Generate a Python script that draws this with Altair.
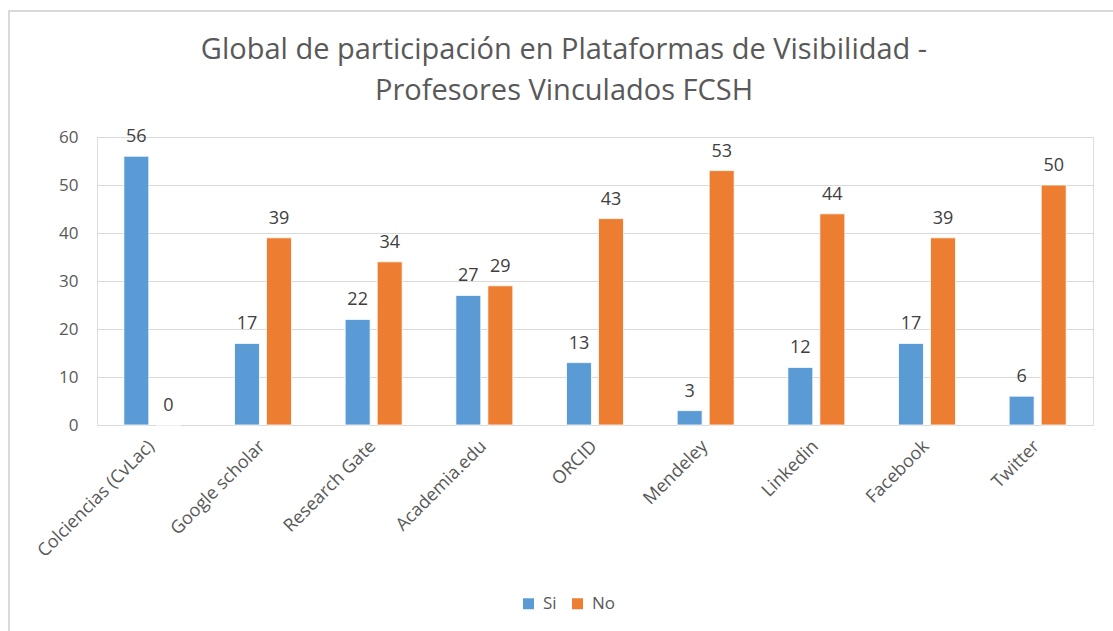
import altair as alt
import pandas as pd

categories = ["Colciencias (CvLac)", "Google scholar", "Research Gate", "Academia.edu",
              "ORCID", "Mendeley", "Linkedin", "Facebook", "Twitter"]
si_values = [56, 17, 22, 27, 13, 3, 12, 17, 6]
no_values = [0, 39, 34, 29, 43, 53, 44, 39, 50]
series = ["Si", "No"]
colors = ["#5B9BD5", "#ED7D31"]
title_lines = ["Global de participación en Plataformas de Visibilidad -",
               "Profesores Vinculados FCSH"]

rows = []
for c, s, n in zip(categories, si_values, no_values):
    rows.append({"Plataforma": c, "Serie": "Si", "Valor": s})
    rows.append({"Plataforma": c, "Serie": "No", "Valor": n})
df = pd.DataFrame(rows)

FONT = "Open Sans"
GRAY = "#595959"

x_enc = alt.X("Plataforma:N", sort=categories, title=None,
              scale=alt.Scale(paddingInner=0.485, paddingOuter=0.2425),
              axis=alt.Axis(labelAngle=-45, labelFontSize=18, labelColor=GRAY,
                            labelFont=FONT, ticks=False, domain=False, labelPadding=12,
                            labelOffset=-7))
xoff = alt.XOffset("Serie:N", sort=series, scale=alt.Scale(paddingInner=0.22))
y_enc = alt.Y("Valor:Q", title=None,
              scale=alt.Scale(domain=[0, 60]),
              axis=alt.Axis(values=[0, 10, 20, 30, 40, 50, 60], labelFontSize=17,
                            labelColor=GRAY, labelFont=FONT, ticks=False, domain=False,
                            gridColor="#D9D9D9", gridWidth=1, labelPadding=19))
color_enc = alt.Color("Serie:N", sort=series,
                      scale=alt.Scale(domain=series, range=colors),
                      legend=alt.Legend(title=None, orient="none", direction="horizontal",
                                        legendX=423, legendY=458, symbolType="square",
                                        symbolSize=120, symbolStrokeWidth=0,
                                        labelFontSize=17, labelColor=GRAY, labelFont=FONT,
                                        columnPadding=12, labelOffset=6))

bars = alt.Chart(df).mark_bar(stroke="white", strokeWidth=0.8).encode(
    x=x_enc, xOffset=xoff, y=y_enc, color=color_enc)

labels = alt.Chart(df).mark_text(baseline="alphabetic", dy=-14, fontSize=18,
                                 color="#404040", font=FONT).encode(
    x=alt.X("Plataforma:N", sort=categories),
    xOffset=alt.XOffset("Serie:N", sort=series),
    y="Valor:Q", text="Valor:Q")

frame = alt.Chart(pd.DataFrame({"a": [0]})).mark_rect(
    fill=None, stroke="#D9D9D9", strokeWidth=2, clip=False).encode(
    x=alt.value(-88), x2=alt.value(1030), y=alt.value(-126), y2=alt.value(510))

title1 = alt.Chart(pd.DataFrame({"t": [title_lines[0]]})).mark_text(
    fontSize=29, font=FONT, color=GRAY, align="center", baseline="alphabetic").encode(
    x=alt.value(467), y=alt.value(-78), text="t:N")
title2 = alt.Chart(pd.DataFrame({"t": [title_lines[1]]})).mark_text(
    fontSize=29, font=FONT, color=GRAY, align="center", baseline="alphabetic").encode(
    x=alt.value(467), y=alt.value(-37), text="t:N")

chart = alt.layer(frame, bars, labels, title1, title2).properties(
    width=996, height=288,
    padding={"left": 97, "top": 137, "right": 20, "bottom": 206},
    autosize=alt.AutoSizeParams(type="none")
).configure_view(stroke=None).configure(background="white")

chart.save("out.html", embed_options={"renderer": "svg", "actions": False})
